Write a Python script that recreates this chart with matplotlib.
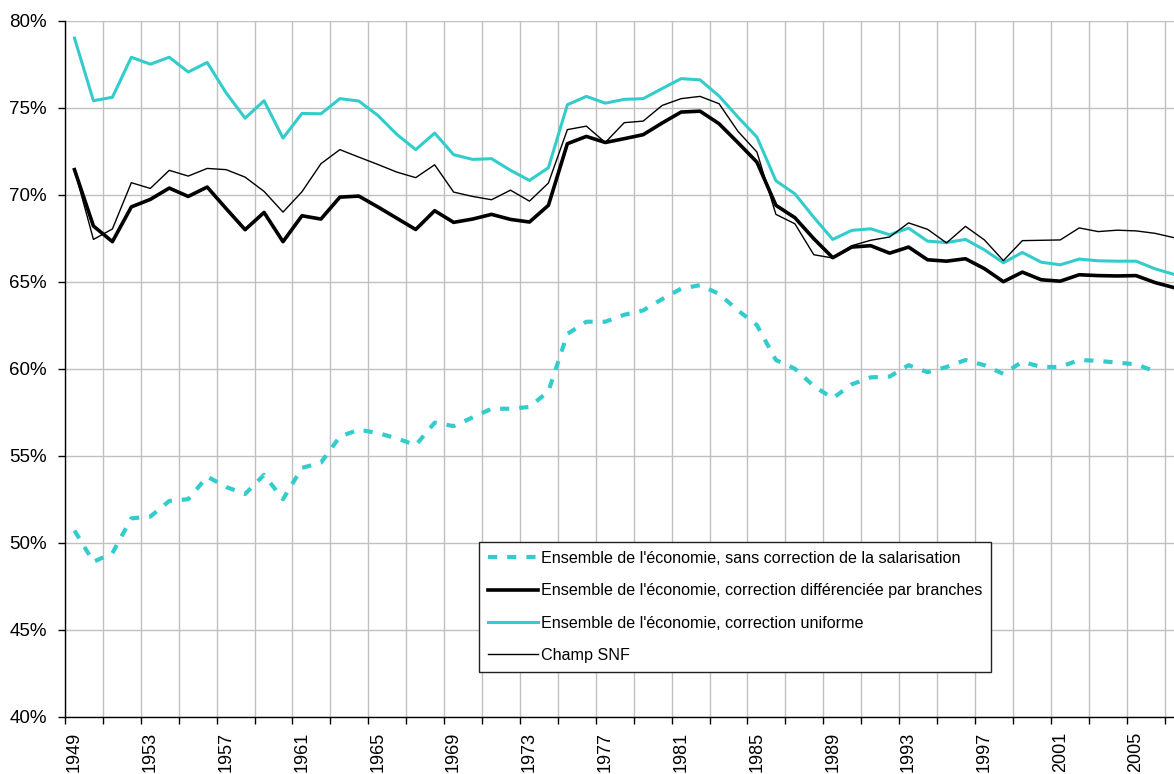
import numpy as np
import matplotlib
matplotlib.use("Agg")
import matplotlib.pyplot as plt
from matplotlib.ticker import FixedLocator, FuncFormatter

plt.rcParams['font.family'] = ['Liberation Sans', 'DejaVu Sans']

years = list(range(1949, 2008))

# part des salaires dans la valeur ajoutee (%)
sans_correction = [50.7, 48.9, 49.4, 51.4, 51.5, 52.4, 52.5, 53.8, 53.2, 52.8,
                   53.9, 52.5, 54.3, 54.6, 56.1, 56.5, 56.3, 56.0, 55.6, 56.9,
                   56.7, 57.2, 57.7, 57.7, 57.8, 58.7, 62.0, 62.7, 62.7, 63.1,
                   63.35, 64.0, 64.6, 64.8, 64.3, 63.35, 62.5, 60.5, 60.0, 59.0,
                   58.3, 59.1, 59.5, 59.55, 60.2, 59.8, 60.1, 60.5, 60.2, 59.7,
                   60.4, 60.1, 60.1, 60.5, 60.45, 60.35, 60.25, 59.85, np.nan]

differenciee = [71.44, 68.2, 67.3, 69.3, 69.73, 70.38, 69.9, 70.44, 69.2, 67.99,
                68.98, 67.3, 68.79, 68.6, 69.86, 69.92, 69.3, 68.65, 68.0, 69.08,
                68.41, 68.6, 68.87, 68.58, 68.43, 69.39, 72.93, 73.35, 73.0, 73.22,
                73.45, 74.12, 74.75, 74.8, 74.08, 72.99, 71.87, 69.39, 68.68, 67.47,
                66.38, 66.99, 67.07, 66.64, 66.99, 66.26, 66.18, 66.32, 65.75, 65.0,
                65.55, 65.11, 65.03, 65.4, 65.35, 65.33, 65.35, 64.95, 64.66]

uniforme = [79.0, 75.4, 75.6, 77.9, 77.5, 77.9, 77.05, 77.6, 75.85, 74.4,
            75.4, 73.25, 74.67, 74.65, 75.52, 75.38, 74.56, 73.47, 72.59, 73.54,
            72.3, 72.03, 72.07, 71.4, 70.82, 71.55, 75.17, 75.65, 75.26, 75.48,
            75.52, 76.1, 76.67, 76.6, 75.67, 74.46, 73.31, 70.8, 70.05, 68.7,
            67.43, 67.95, 68.04, 67.7, 68.08, 67.33, 67.25, 67.43, 66.83, 66.09,
            66.68, 66.12, 65.97, 66.3, 66.2, 66.18, 66.18, 65.74, 65.42]

champ_snf = [71.44, 67.43, 68.03, 70.69, 70.36, 71.4, 71.07, 71.51, 71.44, 71.01,
             70.19, 69.0, 70.17, 71.78, 72.59, 72.16, 71.74, 71.3, 70.98, 71.72,
             70.15, 69.9, 69.71, 70.26, 69.63, 70.67, 73.74, 73.94, 73.0, 74.14,
             74.23, 75.13, 75.52, 75.65, 75.23, 73.64, 72.45, 68.87, 68.33, 66.55,
             66.36, 67.07, 67.38, 67.57, 68.38, 68.01, 67.23, 68.18, 67.4, 66.21,
             67.36, 67.38, 67.4, 68.09, 67.88, 67.96, 67.92, 67.78, 67.53]

labels = ["Ensemble de l'économie, sans correction de la salarisation",
          "Ensemble de l'économie, correction différenciée par branches",
          "Ensemble de l'économie, correction uniforme",
          "Champ SNF"]

cyan = '#33CCCC'

fig = plt.figure(figsize=(11.74, 7.74), dpi=100)
W, H = 1174, 774
ax = fig.add_axes([65 / W, (H - 716.7) / H, (W - 65) / W, (716.7 - 20.7) / H])

ax.plot(years, sans_correction, color=cyan, lw=3.0, dashes=(2.2, 2.4),
        solid_capstyle='butt', dash_capstyle='butt', label=labels[0])
ax.plot(years, differenciee, color='black', lw=2.6, label=labels[1])
ax.plot(years, uniforme, color=cyan, lw=2.2, label=labels[2])
ax.plot(years, champ_snf, color='black', lw=1.0, label=labels[3])

ax.set_xlim(1948.5, 2007.0)
ax.set_ylim(40, 80)

# grid / ticks in the Excel way: ticks between categories, labels every 4 years
ax.xaxis.set_major_locator(FixedLocator(np.arange(1948.5, 2008, 2)))
ax.xaxis.set_major_formatter(FuncFormatter(lambda v, p: ''))
ax.xaxis.set_minor_locator(FixedLocator(np.arange(1949, 2008, 4)))
ax.xaxis.set_minor_formatter(FuncFormatter(lambda v, p: '%d' % round(v)))
ax.tick_params(axis='x', which='major', length=5, width=1, direction='out')
ax.tick_params(axis='x', which='minor', length=0, pad=11, labelsize=13,
               labelrotation=90)
for t in ax.xaxis.get_minorticklabels():
    t.set_verticalalignment('top')

ax.set_yticks(np.arange(40, 81, 5))
ax.yaxis.set_major_formatter(FuncFormatter(lambda v, p: '%d%%' % v))
ax.tick_params(axis='y', length=5, width=1, direction='out', pad=8, labelsize=13.5)

ax.grid(True, which='major', color='#c0c0c0', lw=1)
ax.set_axisbelow(True)
for s in ['top', 'right']:
    ax.spines[s].set_visible(False)
ax.spines['left'].set_linewidth(1)
ax.spines['bottom'].set_linewidth(1)

leg = ax.legend(loc='upper left', bbox_to_anchor=(479 / W, 1 - 542 / H),
                bbox_transform=fig.transFigure, borderaxespad=0,
                fancybox=False, framealpha=1, edgecolor='#222222',
                fontsize=11.6, handlelength=3.1, handletextpad=0.2,
                labelspacing=1.08, borderpad=0.55)
leg.get_frame().set_linewidth(1)

plt.savefig('out.png', dpi=100)
